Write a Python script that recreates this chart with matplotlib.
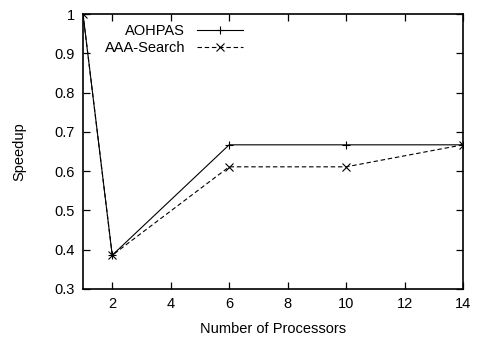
import matplotlib as mpl
mpl.use('Agg')
import matplotlib.pyplot as plt

procs = [1, 2, 6, 10, 14]
aohpas = [1.0, 0.386, 0.667, 0.667, 0.667]
aaa_search = [1.0, 0.386, 0.611, 0.611, 0.667]

plt.rcParams['font.family'] = ['Liberation Sans', 'DejaVu Sans']
plt.rcParams['font.size'] = 10.5

fig = plt.figure(figsize=(4.8, 3.39), dpi=100)
ax = fig.add_axes([83/480, 1-289/339, 380/480, 275/339])

ax.plot(procs, aohpas, color='black', lw=0.8, marker='+', ms=6, mew=0.8, label='AOHPAS')
ax.plot(procs, aaa_search, color='black', lw=0.8, ls=(0, (4, 2.5)), marker='x', ms=5.5, mew=0.8,
        label='AAA-Search')

ax.set_xlim(1, 14)
ax.set_ylim(0.3, 1.0)
ax.set_xticks([2, 4, 6, 8, 10, 12, 14])
ax.set_yticks([0.3, 0.4, 0.5, 0.6, 0.7, 0.8, 0.9, 1.0])
ax.set_yticklabels(['0.3', '0.4', '0.5', '0.6', '0.7', '0.8', '0.9', '1'])
ax.tick_params(direction='in', top=True, right=True, length=5, width=0.9, pad=6)
for s in ax.spines.values():
    s.set_linewidth(1.2)

ax.set_xlabel('Number of Processors', labelpad=8)
ax.set_ylabel('Speedup', labelpad=20)

ax.legend(loc='upper left', bbox_to_anchor=(0.03, 1.0), frameon=False, markerfirst=False,
          handlelength=3.2, handletextpad=0.8, labelspacing=0.2, borderaxespad=0.3)

plt.savefig('out.png')
